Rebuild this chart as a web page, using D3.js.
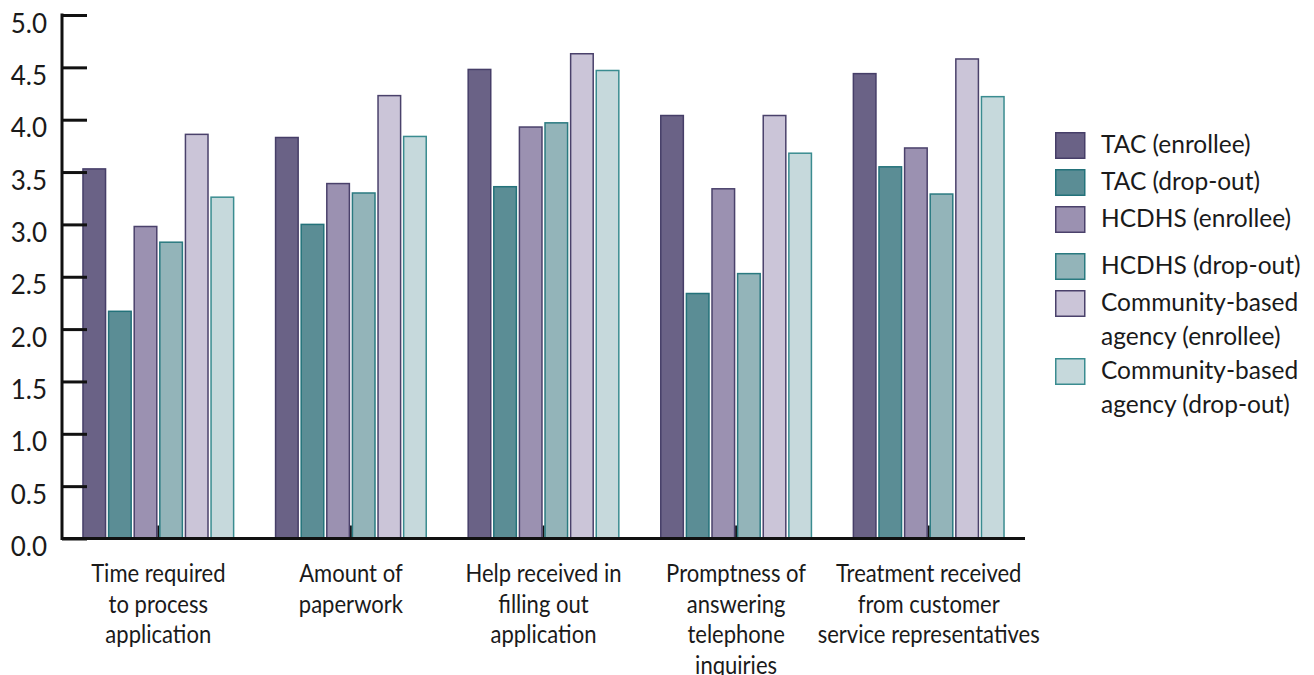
<!DOCTYPE html>
<html>
<head>
<meta charset="utf-8">
<script src="https://cdn.jsdelivr.net/npm/d3@7"></script>
<style>
  html, body { margin: 0; padding: 0; background: #fff; }
  svg { display: block; }
  text { font-family: Lato, "Open Sans", sans-serif; fill: #1a1a1a; }
</style>
</head>
<body>
<svg id="chart" width="1314" height="675"></svg>
<script>
// Category labels (one line per array entry)
const categories = [
  ["Time required", "to process", "application"],
  ["Amount of", "paperwork"],
  ["Help received in", "filling out", "application"],
  ["Promptness of", "answering", "telephone", "inquiries"],
  ["Treatment received", "from customer", "service representatives"]
];

const seriesNames = [
  ["TAC (enrollee)"],
  ["TAC (drop-out)"],
  ["HCDHS (enrollee)"],
  ["HCDHS (drop-out)"],
  ["Community-based", "agency (enrollee)"],
  ["Community-based", "agency (drop-out)"]
];

// Mean ratings per series, in category order
const tacEnrollee       = [3.53, 3.83, 4.48, 4.04, 4.44];
const tacDropout        = [2.17, 3.00, 3.36, 2.34, 3.55];
const hcdhsEnrollee     = [2.98, 3.39, 3.93, 3.34, 3.73];
const hcdhsDropout      = [2.83, 3.30, 3.97, 2.53, 3.29];
const communityEnrollee = [3.86, 4.23, 4.63, 4.04, 4.58];
const communityDropout  = [3.26, 3.84, 4.47, 3.68, 4.22];

const yTicks = [0, 0.5, 1, 1.5, 2, 2.5, 3, 3.5, 4, 4.5, 5];

const seriesValues = [tacEnrollee, tacDropout, hcdhsEnrollee, hcdhsDropout, communityEnrollee, communityDropout];
const fills   = ["#6a6286", "#5b8d95", "#9b91b1", "#93b4b9", "#cbc5d8", "#c6d9dc"];
const strokes = ["#463e68", "#23727a", "#4a416b", "#2a7a80", "#4a416b", "#3a8c90"];

const svg = d3.select("#chart");

const x0 = d3.scaleBand()
  .domain(d3.range(categories.length))
  .range([62, 1025])
  .paddingInner(0.21)
  .paddingOuter(0.105);

const x1 = d3.scaleBand()
  .domain(d3.range(seriesValues.length))
  .range([0, x0.bandwidth()])
  .paddingInner(0.06);

const y = d3.scaleLinear().domain([0, 5]).range([538.5, 15]);

// Small category ticks on the baseline (mostly hidden behind bars)
svg.append("g").selectAll("line")
  .data(d3.range(categories.length))
  .join("line")
  .attr("x1", i => x0(i) + x0.bandwidth() / 2)
  .attr("x2", i => x0(i) + x0.bandwidth() / 2)
  .attr("y1", y(0))
  .attr("y2", y(0) - 13)
  .attr("stroke", "#111")
  .attr("stroke-width", 2);

// Bars
const groups = svg.append("g").selectAll("g")
  .data(d3.range(categories.length))
  .join("g")
  .attr("transform", i => `translate(${x0(i)},0)`);

groups.selectAll("rect")
  .data(ci => seriesValues.map((vals, si) => ({ si, v: vals[ci] })))
  .join("rect")
  .attr("x", d => x1(d.si) + 0.75)
  .attr("width", x1.bandwidth() - 1.5)
  .attr("y", d => y(d.v))
  .attr("height", d => y(0) - y(d.v))
  .attr("fill", d => fills[d.si])
  .attr("stroke", d => strokes[d.si])
  .attr("stroke-width", 1.5);

// Y axis
const yAxis = d3.axisRight(y)
  .tickValues(yTicks)
  .tickSize(25)
  .tickFormat("");
const yg = svg.append("g").attr("transform", "translate(62,0)").call(yAxis);
yg.select(".domain").remove();
yg.selectAll(".tick line").attr("stroke", "#111").attr("stroke-width", 3);

svg.append("line")
  .attr("x1", 62).attr("x2", 62)
  .attr("y1", y(5) - 1.5).attr("y2", y(0) + 1.5)
  .attr("stroke", "#111").attr("stroke-width", 3);

// Baseline
svg.append("line")
  .attr("x1", 62).attr("x2", 1025)
  .attr("y1", y(0)).attr("y2", y(0))
  .attr("stroke", "#111").attr("stroke-width", 3);

// Y tick labels, set just below their tick marks
svg.append("g").selectAll("text")
  .data(yTicks)
  .join("text")
  .attr("x", 47)
  .attr("y", d => y(d) + 17.5)
  .attr("text-anchor", "end")
  .style("font-size", "26px")
  .text(d => d3.format(".1f")(d));

// Category labels (slightly condensed)
const catLabels = svg.append("g").selectAll("text")
  .data(categories)
  .join("text")
  .attr("text-anchor", "middle")
  .style("font-size", "24.5px")
  .attr("transform", (d, i) => `translate(${x0(i) + x0.bandwidth() / 2},582) scale(0.9,1)`);
catLabels.selectAll("tspan")
  .data(d => d)
  .join("tspan")
  .attr("x", 0)
  .attr("y", (d, j) => j * 30.7)
  .text(d => d);

// Legend
const legendTops = [132, 169, 206, 253, 290, 358];
const legend = svg.append("g").selectAll("g")
  .data(seriesNames)
  .join("g")
  .attr("transform", (d, i) => `translate(1055,${legendTops[i]})`);
legend.append("rect")
  .attr("x", 0.75).attr("y", 0.75)
  .attr("width", 29).attr("height", 25.5)
  .attr("fill", (d, i) => fills[i])
  .attr("stroke", (d, i) => strokes[i])
  .attr("stroke-width", 1.5);
legend.append("text")
  .style("font-size", "24.5px")
  .selectAll("tspan")
  .data(d => d)
  .join("tspan")
  .attr("x", 46)
  .attr("y", (d, j) => 21 + j * 33.5)
  .text(d => d);
</script>
</body>
</html>
